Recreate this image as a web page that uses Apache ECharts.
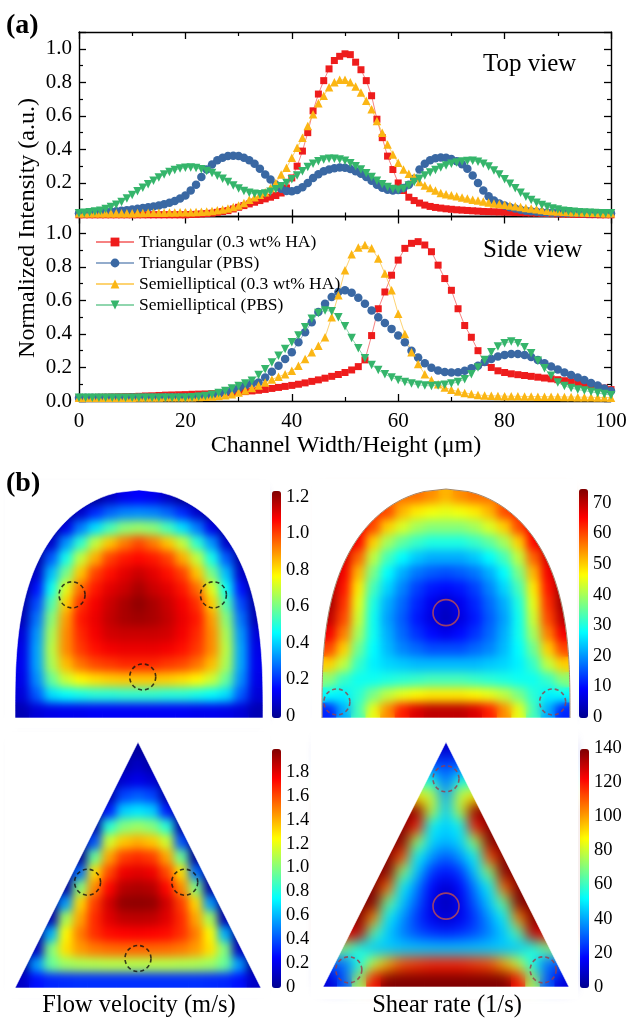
<!DOCTYPE html>
<html><head><meta charset="utf-8">
<script src="https://cdn.jsdelivr.net/npm/echarts@6/dist/echarts.min.js"></script>
<style>
html,body{margin:0;padding:0;background:#fff}
.layer{position:absolute;left:0;top:0;width:627px;height:1020px}
#c2{filter:blur(5px);pointer-events:none}
#c2b{filter:blur(7px);pointer-events:none}
#c3{pointer-events:none}
</style>
</head><body>
<div id="c1" class="layer"></div><div id="c2" class="layer"></div><div id="c2b" class="layer"></div><div id="c3" class="layer"></div>
<script>
// ---------- panel (a): intensity profiles ----------
const SERIES_NAMES = ['Triangular (0.3 wt% HA)', 'Triangular (PBS)', 'Semielliptical (0.3 wt% HA)', 'Semielliptical (PBS)'];
const X_RANGE = [0, 100];
const Y_RANGE = [0, 1.1];

const TOP_X = [0,1,2,3,4,5,6,7,8,9,10,11,12,13,14,15,16,17,18,19,20,21,22,23,24,25,26,27,28,29,30,31,32,33,34,35,36,37,38,39,40,41,42,43,44,45,46,47,48,49,50,51,52,53,54,55,56,57,58,59,60,61,62,63,64,65,66,67,68,69,70,71,72,73,74,75,76,77,78,79,80,81,82,83,84,85,86,87,88,89,90,91,92,93,94,95,96,97,98,99,100];
const TOP_RED = [.01,.01,.01,.01,.01,.01,.01,.01,.01,.01,.01,.01,.01,.01,.01,.01,.01,.01,.01,.01,.01,
 .012,.013,.015,.017,.02,.025,.03,.035,.045,.055,
 .065,.075,.085,.095,.105,.115,.125,.14,.17,.23,
 .3,.39,.5,.63,.73,.81,.88,.93,.955,.97,
 .965,.92,.875,.81,.72,.58,.47,.36,.28,.2,
 .155,.115,.095,.08,.068,.06,.054,.05,.046,.043,
 .04,.038,.036,.034,.032,.03,.029,.028,.027,.026,
 .025,.024,.023,.022,.021,.02,.019,.018,.017,.016,
 .015,.014,.013,.012,.012,.011,.011,.01,.01,.01];
const TOP_BLUE = [.02,.02,.022,.024,.026,.028,.03,.032,.035,.038,.042,
 .046,.05,.055,.06,.066,.073,.082,.093,.107,.125,
 .155,.19,.235,.28,.31,.335,.35,.36,.362,.36,
 .35,.335,.315,.285,.25,.22,.19,.165,.152,.15,
 .158,.175,.2,.23,.252,.27,.28,.288,.292,.29,
 .283,.27,.255,.235,.213,.19,.172,.16,.155,.158,
 .17,.19,.225,.28,.315,.335,.347,.352,.35,.343,
 .33,.312,.285,.245,.2,.155,.12,.095,.078,.065,
 .055,.047,.04,.035,.031,.028,.026,.024,.023,.022,
 .022,.021,.021,.021,.02,.02,.02,.02,.02,.02];
const TOP_YELLOW = [.02,.02,.02,.02,.02,.02,.02,.02,.02,.02,.02,
 .021,.021,.022,.022,.023,.023,.024,.024,.025,.025,
 .026,.027,.028,.03,.033,.037,.042,.048,.056,.066,
 .08,.1,.115,.13,.145,.17,.2,.25,.29,.35,
 .41,.47,.54,.61,.675,.72,.77,.8,.815,.815,
 .8,.775,.74,.69,.64,.57,.5,.43,.37,.32,
 .28,.255,.235,.205,.185,.17,.155,.14,.132,.126,
 .12,.114,.107,.1,.095,.09,.083,.078,.074,.07,
 .066,.061,.056,.051,.047,.043,.039,.035,.032,.03,
 .028,.027,.026,.025,.024,.023,.022,.021,.02,.02];
const TOP_GREEN = [.02,.022,.025,.03,.035,.045,.057,.07,.087,.107,.128,
 .15,.172,.193,.213,.232,.25,.265,.277,.286,.291,
 .292,.289,.282,.272,.259,.243,.225,.205,.185,.167,
 .152,.141,.135,.133,.137,.147,.162,.18,.2,.222,
 .245,.27,.295,.315,.33,.34,.345,.345,.34,.332,
 .318,.3,.28,.258,.235,.213,.193,.176,.164,.16,
 .166,.185,.205,.225,.245,.262,.277,.292,.304,.314,
 .322,.328,.331,.332,.327,.315,.298,.275,.25,.222,
 .195,.168,.142,.118,.098,.082,.068,.058,.048,.041,
 .035,.031,.028,.026,.024,.022,.021,.02,.02,.02];

const SIDE_X = [0,1.25,2.5,3.75,5,6.25,7.5,8.75,10,11.25,12.5,13.75,15,16.25,17.5,18.75,20,21.25,22.5,23.75,25,26.25,27.5,28.75,30,31.25,32.5,33.75,35,36.25,37.5,38.75,40,41.25,42.5,43.75,45,46.25,47.5,48.75,50,51.25,52.5,53.75,55,56.25,57.5,58.75,60,61.25,62.5,63.75,65,66.25,67.5,68.75,70,71.25,72.5,73.75,75,76.25,77.5,78.75,80,81.25,82.5,83.75,85,86.25,87.5,88.75,90,91.25,92.5,93.75,95,96.25,97.5,98.75,100];
const SIDE_RED = [.02,.02,.021,.022,.023,.024,.025,.026,.027,.028,
 .03,.031,.033,.035,.036,.037,.038,.04,.041,.042,
 .044,.046,.048,.05,.053,.056,.06,.064,.069,.075,
 .081,.087,.093,.1,.108,.117,.126,.136,.147,.158,
 .17,.185,.205,.245,.39,.55,.65,.75,.84,.91,
 .94,.95,.93,.89,.81,.73,.66,.55,.45,.38,
 .3,.23,.2,.18,.17,.162,.157,.152,.147,.142,
 .137,.132,.127,.121,.115,.109,.102,.094,.086,.077,
 .068];
const SIDE_BLUE = [.02,.02,.02,.02,.02,.02,.02,.02,.021,.021,
 .021,.021,.021,.022,.022,.022,.022,.023,.025,.028,
 .033,.04,.05,.062,.077,.092,.105,.11,.14,.175,
 .21,.25,.29,.35,.41,.47,.53,.58,.62,.65,
 .66,.645,.615,.58,.54,.5,.465,.43,.39,.35,
 .3,.26,.225,.198,.182,.173,.17,.172,.18,.195,
 .21,.232,.25,.265,.275,.28,.28,.274,.262,.245,
 .225,.205,.188,.17,.155,.14,.125,.108,.092,.075,
 .06];
const SIDE_YELLOW = [.02,.02,.02,.02,.02,.02,.02,.02,.02,.021,
 .021,.021,.021,.022,.022,.022,.022,.023,.024,.025,
 .027,.03,.034,.04,.05,.063,.078,.093,.11,.128,
 .145,.16,.18,.21,.25,.29,.33,.38,.5,.63,
 .78,.875,.915,.93,.91,.85,.76,.66,.52,.4,
 .29,.22,.16,.125,.1,.08,.067,.056,.048,.041,
 .036,.033,.031,.03,.029,.028,.028,.027,.027,.026,
 .026,.025,.025,.024,.024,.023,.023,.022,.021,.021,
 .02];
const SIDE_GREEN = [.02,.02,.02,.02,.02,.02,.02,.02,.02,.02,
 .02,.02,.02,.02,.02,.02,.02,.022,.025,.03,
 .037,.047,.06,.075,.09,.105,.12,.155,.19,.23,
 .27,.31,.35,.39,.44,.49,.525,.54,.535,.5,
 .445,.375,.315,.255,.215,.185,.16,.14,.125,.113,
 .104,.097,.092,.09,.093,.097,.104,.113,.13,.16,
 .2,.245,.29,.325,.345,.355,.345,.32,.285,.24,
 .195,.15,.11,.09,.077,.068,.062,.055,.048,.041,
 .035];

// ---------- panel (b): simulated fields (rows top -> bottom) ----------
const VEL_SEMI = [
 [0,0,0,0,0,0,.07,.13,.15,.13,.07,0,0,0,0,0,0],
 [0,0,0,0,.08,.2,.27,.31,.32,.31,.27,.2,.08,0,0,0,0],
 [0,0,0,.12,.3,.42,.54,.62,.64,.62,.54,.42,.3,.12,0,0,0],
 [0,0,.08,.33,.51,.69,.83,.92,.98,.92,.83,.69,.51,.33,.08,0,0],
 [0,.02,.26,.48,.69,.86,.99,1.04,1.06,1.04,.99,.86,.69,.48,.26,.02,0],
 [0,.08,.38,.6,.83,.99,1.05,1.1,1.13,1.1,1.05,.99,.83,.6,.38,.08,0],
 [0,.17,.47,.73,.94,1.04,1.1,1.13,1.17,1.13,1.1,1.04,.94,.73,.47,.17,0],
 [.03,.24,.55,.82,1.01,1.08,1.13,1.17,1.2,1.17,1.13,1.08,1.01,.82,.55,.24,.03],
 [.05,.29,.62,.88,1.04,1.09,1.14,1.17,1.18,1.17,1.14,1.09,1.04,.88,.62,.29,.05],
 [.1,.33,.66,.9,1.02,1.08,1.12,1.13,1.13,1.13,1.12,1.08,1.02,.9,.66,.33,.1],
 [.12,.35,.68,.9,1,1.05,1.08,1.09,1.09,1.09,1.08,1.05,1,.9,.68,.35,.12],
 [.13,.35,.66,.84,.93,.98,1,1.02,1.02,1.02,1,.98,.93,.84,.66,.35,.13],
 [.12,.32,.58,.7,.77,.8,.82,.83,.83,.83,.82,.8,.77,.7,.58,.32,.12],
 [.1,.26,.42,.46,.48,.5,.5,.51,.51,.51,.5,.5,.48,.46,.42,.26,.1],
 [.05,.1,.12,.13,.13,.14,.14,.14,.14,.14,.14,.14,.13,.13,.12,.1,.05]
];
const SHEAR_SEMI = [
 [57,57,57,57,57,57,57,55,52,55,57,57,57,57,57,57,57],
 [62,62,62,62,60,52,48,46,45,46,48,52,60,62,62,62,62],
 [66,66,66,60,50,44,40,38,38,38,40,44,50,60,66,66,66],
 [70,70,65,50,40,35,32,30,30,30,32,35,40,50,65,70,70],
 [70,68,58,42,33,28,24,22,22,22,24,28,33,42,58,68,70],
 [72,66,52,37,28,22,18,16,15,16,18,22,28,37,52,66,72],
 [72,64,48,33,25,19,14,11,10,11,14,19,25,33,48,64,72],
 [72,62,45,30,22,17,12,8,5,8,12,17,22,30,45,62,72],
 [70,60,43,29,21,16,11,7,4,7,11,16,21,29,43,60,70],
 [66,56,40,29,22,17,13,10,8,10,13,17,22,29,40,56,66],
 [60,50,36,28,23,19,17,15,15,15,17,19,23,28,36,50,60],
 [50,42,32,27,25,24,23,23,23,23,23,24,25,27,32,42,50],
 [38,32,29,29,30,31,32,33,33,33,32,31,30,29,29,32,38],
 [28,27,31,37,42,45,47,48,48,48,47,45,42,37,31,27,28],
 [12,22,33,45,55,63,68,70,70,70,68,63,55,45,33,22,12]
];
const VEL_TRI = [
 [0,0,0,0,0,0,0,0,.04,0,0,0,0,0,0,0,0],
 [0,0,0,0,0,0,0,.05,.12,.05,0,0,0,0,0,0,0],
 [0,0,0,0,0,0,.02,.15,.2,.15,.02,0,0,0,0,0,0],
 [0,0,0,0,0,0,.05,.38,.43,.38,.05,0,0,0,0,0,0],
 [0,0,0,0,0,0,.3,.65,.7,.65,.3,0,0,0,0,0,0],
 [0,0,0,0,0,.05,.82,1,1.05,1,.82,.05,0,0,0,0,0],
 [0,0,0,0,0,.41,1.15,1.35,1.4,1.35,1.15,.41,0,0,0,0,0],
 [0,0,0,0,.02,.95,1.42,1.62,1.66,1.62,1.42,.95,.02,0,0,0,0],
 [0,0,0,0,.47,1.3,1.6,1.77,1.8,1.77,1.6,1.3,.47,0,0,0,0],
 [0,0,0,.05,1,1.47,1.73,1.88,1.9,1.88,1.73,1.47,1,.05,0,0,0],
 [0,0,0,.55,1.32,1.62,1.83,1.95,1.96,1.95,1.83,1.62,1.32,.55,0,0,0],
 [0,0,.08,1.07,1.42,1.66,1.8,1.86,1.87,1.86,1.8,1.66,1.42,1.07,.08,0,0],
 [0,0,.6,1.25,1.5,1.65,1.72,1.74,1.75,1.74,1.72,1.65,1.5,1.25,.6,0,0],
 [0,.12,1,1.3,1.44,1.5,1.53,1.54,1.54,1.54,1.53,1.5,1.44,1.3,1,.12,0],
 [0,.55,.95,1.05,1.08,1.09,1.1,1.1,1.1,1.1,1.1,1.09,1.08,1.05,.95,.55,0],
 [.12,.28,.32,.33,.34,.34,.34,.34,.34,.34,.34,.34,.34,.33,.32,.28,.12]
];
const SHEAR_TRI = [
 [10,10,10,10,10,10,10,10,10,10,10,10,10,10,10,10,10],
 [30,30,30,30,30,30,30,30,27,30,30,30,30,30,30,30,30],
 [55,55,55,55,55,55,55,55,32,55,55,55,55,55,55,55,55],
 [90,90,90,90,90,90,90,80,40,80,90,90,90,90,90,90,90],
 [140,140,140,140,140,140,138,80,45,80,138,140,140,140,140,140,140],
 [140,140,140,140,140,140,120,53,45,53,120,140,140,140,140,140,140],
 [140,140,140,140,140,138,75,47,42,47,75,138,140,140,140,140,140],
 [140,140,140,140,140,112,53,38,30,38,53,112,140,140,140,140,140],
 [140,140,140,140,138,72,45,25,20,25,45,72,138,140,140,140,140],
 [140,140,140,140,108,52,35,18,10,18,35,52,108,140,140,140,140],
 [140,140,140,139,68,45,30,15,6,15,30,45,68,139,140,140,140],
 [140,140,140,104,51,38,25,15,10,15,25,38,51,104,140,140,140],
 [125,125,130,64,45,35,28,24,22,24,28,35,45,64,130,125,125],
 [70,70,56,45,45,45,45,45,45,45,45,45,45,45,56,70,70],
 [30,32,55,80,100,112,115,118,118,118,115,112,100,80,55,32,30],
 [12,30,75,120,140,140,140,140,140,140,140,140,140,120,75,30,12]
];
// colour-bar ranges [bar max, labelled max, tick step]
const CBAR_VEL_SEMI = [1.22, 1.2, 0.2];
const CBAR_SHEAR_SEMI = [74.6, 70, 10];
const CBAR_VEL_TRI = [1.99, 1.8, 0.2];
const CBAR_SHEAR_TRI = [140, 140, 20];
// marked regions (normalised shape coordinates: x -1..1, y 0..1)
const VEL_SEMI_RINGS = [[-0.54, 0.54], [0.6, 0.54], [0.03, 0.18]];
const SHEAR_SEMI_SOLID = [[0, 0.46]];
const SHEAR_SEMI_DASHED = [[-0.88, 0.07], [0.86, 0.07]];
const VEL_TRI_RINGS = [[-0.41, 0.43], [0.38, 0.43], [0, 0.12]];
const SHEAR_TRI_SOLID = [[0, 0.33]];
const SHEAR_TRI_DASHED = [[0, 0.85], [-0.79, 0.07], [0.79, 0.07]];
const SEMI_EXP = 2.9;

// ---------- styling ----------
const FONT = "'Liberation Serif','Times New Roman',serif";
const JET = ['#00008f','#0000ff','#0080ff','#00ffff','#80ff80','#ffff00','#ff8000','#ff0000','#800000'];
const COLORS = ['#ee1c1c', '#3a68a3', '#fbb614', '#35b56b'];
const LINE_COLORS = ['rgba(238,28,28,0.55)', 'rgba(58,104,163,0.55)', 'rgba(251,182,20,0.6)', 'rgba(53,181,107,0.55)'];
const SYMBOLS = ['rect', 'circle', 'triangle', 'triangle'];
const ROTS = [0, 0, 0, 180];
const SIZES = [7, 8.5, 8.5, 8.5];

const axLine = {show: true, onZero: false, lineStyle: {color: '#000', width: 1.4}};
const axTick = {show: true, inside: true, length: 7, lineStyle: {color: '#000', width: 1.3}};
const axMinor = {show: true, splitNumber: 2, length: 4, lineStyle: {color: '#000', width: 1.2}};
function xLineAxis(grid, pos, labels) {
  return {type: 'value', gridIndex: grid, position: pos, min: X_RANGE[0], max: X_RANGE[1], interval: 20,
    axisLine: axLine, axisTick: axTick, minorTick: axMinor, splitLine: {show: false},
    axisLabel: {show: labels, color: '#000', fontFamily: FONT, fontSize: 21, margin: 10}};
}
function yLineAxis(grid, pos, labels, showMin) {
  return {type: 'value', gridIndex: grid, position: pos, min: Y_RANGE[0], max: Y_RANGE[1], interval: 0.2,
    axisLine: axLine, axisTick: axTick, minorTick: axMinor, splitLine: {show: false},
    axisLabel: {show: labels, showMinLabel: showMin, showMaxLabel: false, color: '#000', fontFamily: FONT, fontSize: 21, margin: 7,
      formatter: v => v.toFixed(1)}};
}
function lineSeries(k, xs, ys, xi, yi) {
  return {type: 'line', name: SERIES_NAMES[k], xAxisIndex: xi, yAxisIndex: yi,
    data: xs.map((x, i) => [x, ys[i]]), symbol: SYMBOLS[k], symbolSize: SIZES[k], symbolRotate: ROTS[k],
    showAllSymbol: true, clip: false, itemStyle: {color: COLORS[k]}, lineStyle: {color: LINE_COLORS[k], width: 1},
    emphasis: {disabled: true}, animation: false};
}
function cells(rows) {
  const out = [];
  rows.forEach((r, i) => r.forEach((v, j) => out.push([j, i, v])));
  return out;
}
function catNames(n) { return Array.from({length: n}, (_, i) => String(i)); }

const HEAT_RECTS = [
  {left: 15, top: 490, width: 248, height: 228},
  {left: 322, top: 489, width: 248, height: 229},
  {left: 15, top: 742, width: 246, height: 246},
  {left: 323, top: 742, width: 246, height: 245}];
// how far each white mask reaches beyond its field rectangle [left, right, top, bottom]
const MASK_REACH = [[10, 7, 10, 10], [10, 7, 10, 10], [10, 9, 10, 10], [12, 9, 14, 12]];
const CBAR_LABEL_RECTS = [
  {left: 272, top: 497, width: 9, height: 219},
  {left: 579, top: 503, width: 9, height: 214},
  {left: 272, top: 772, width: 9, height: 215},
  {left: 580, top: 748, width: 9, height: 239}];
const CBAR_BOXES = [
  {left: 272, top: 491, itemHeight: 227},
  {left: 579, top: 489, itemHeight: 229},
  {left: 272, top: 749, itemHeight: 239},
  {left: 580, top: 749, itemHeight: 239}];
const FIELDS = [VEL_SEMI, SHEAR_SEMI, VEL_TRI, SHEAR_TRI];
const CBARS = [CBAR_VEL_SEMI, CBAR_SHEAR_SEMI, CBAR_VEL_TRI, CBAR_SHEAR_TRI];
const fixGrid = g => Object.assign({outerBoundsMode: 'none', containLabel: false}, g);

// builds grids / category axes / heatmaps / visual maps for the listed fields
function heatParts(which, gridOffset, axisOffset, seriesOffset, showBar) {
  const grid = [], xAxis = [], yAxis = [], series = [], visualMap = [];
  which.forEach((k, n) => {
    const f = FIELDS[k], c = CBARS[k];
    grid.push(fixGrid(HEAT_RECTS[k]));
    xAxis.push({type: 'category', gridIndex: gridOffset + n, data: catNames(f[0].length), show: false});
    yAxis.push({type: 'category', gridIndex: gridOffset + n, data: catNames(f.length), inverse: true, show: false});
    series.push({type: 'heatmap', xAxisIndex: axisOffset + n, yAxisIndex: axisOffset + n, data: cells(f),
      silent: true, emphasis: {disabled: true}, z: 2, animation: false});
    visualMap.push({type: 'continuous', seriesIndex: seriesOffset + n, dimension: 2, min: 0, max: c[0],
      show: showBar, calculable: false, hoverLink: false, left: CBAR_BOXES[k].left, top: CBAR_BOXES[k].top, itemWidth: 9,
      itemHeight: CBAR_BOXES[k].itemHeight, padding: 0, text: null, inRange: {color: JET}});
  });
  return {grid, xAxis, yAxis, series, visualMap};
}

// ---------- layer 1: profiles, crisp fields, colour bars ----------
const h1 = heatParts([0, 1, 2, 3], 2, 4, 8, true);
const grids1 = [fixGrid({left: 79, top: 32, width: 532, height: 184.5}), fixGrid({left: 79, top: 216.5, width: 532, height: 184.5})]
  .concat(h1.grid, CBAR_LABEL_RECTS.map(fixGrid));
const xAxes1 = [xLineAxis(0, 'bottom', false), xLineAxis(0, 'top', false), xLineAxis(1, 'bottom', true), xLineAxis(1, 'top', false)].concat(h1.xAxis);
const yAxes1 = [yLineAxis(0, 'left', true, false), yLineAxis(0, 'right', false, false), yLineAxis(1, 'left', true, true), yLineAxis(1, 'right', false, false)].concat(h1.yAxis);
CBARS.forEach((c, k) => {
  xAxes1.push({type: 'value', gridIndex: 6 + k, min: 0, max: 1, show: false});
  yAxes1.push({type: 'value', gridIndex: 6 + k, position: 'right', min: 0, max: c[1], interval: c[2],
    axisLine: {show: false}, axisTick: {show: false}, splitLine: {show: false},
    axisLabel: {show: true, showMaxLabel: true, margin: 5, color: '#000', fontFamily: FONT, fontSize: 18.5,
      formatter: v => (c[2] < 1 ? (v === 0 ? '0' : v.toFixed(1)) : String(Math.round(v)))}});
});
const series1 = [];
[TOP_RED, TOP_BLUE, TOP_YELLOW, TOP_GREEN].forEach((ys, k) => series1.push(lineSeries(k, TOP_X, ys, 0, 0)));
[SIDE_RED, SIDE_BLUE, SIDE_YELLOW, SIDE_GREEN].forEach((ys, k) => series1.push(lineSeries(k, SIDE_X, ys, 2, 2)));
h1.series.forEach(s => series1.push(s));

const option1 = {
  backgroundColor: '#fff', animation: false,
  grid: grids1, xAxis: xAxes1, yAxis: yAxes1, visualMap: h1.visualMap,
  legend: {data: SERIES_NAMES, orient: 'vertical', left: 95, top: 232, itemWidth: 38, itemHeight: 11, itemGap: 1,
    padding: 0, selectedMode: false, textStyle: {fontFamily: FONT, fontSize: 17.5, color: '#000', lineHeight: 20}},
  series: series1
};

// ---------- layers 2: the same fields, softened ----------
function softOption(which) {
  const h = heatParts(which, 0, 0, 0, false);
  return {backgroundColor: 'rgba(0,0,0,0)', animation: false, grid: h.grid, xAxis: h.xAxis, yAxis: h.yAxis,
    visualMap: h.visualMap, series: h.series};
}

// ---------- layer 3: shape outlines, marked regions, titles ----------
function maskSemi(k, outline) {
  return function (params, api) {
    const r = MASK_REACH[k];
    const tl = api.coord([-1, 1]), br = api.coord([1, 0]), apex = api.coord([0, 1]);
    const la = [], ra = [];
    for (let i = 0; i <= 90; i++) {
      const h = 1 - i / 90;
      const w = Math.sqrt(Math.max(0, 1 - Math.pow(h, SEMI_EXP)));
      la.push(api.coord([-w, h])); ra.push(api.coord([w, h]));
    }
    const L = [[tl[0] - r[0], tl[1] - r[2]], [apex[0], tl[1] - r[2]]].concat(la, [[tl[0], br[1] + r[3]], [tl[0] - r[0], br[1] + r[3]]]);
    const R = [[br[0] + r[1], tl[1] - r[2]], [apex[0], tl[1] - r[2]]].concat(ra, [[br[0], br[1] + r[3]], [br[0] + r[1], br[1] + r[3]]]);
    const B = [[tl[0] - r[0], br[1]], [br[0] + r[1], br[1]], [br[0] + r[1], br[1] + r[3]], [tl[0] - r[0], br[1] + r[3]]];
    const ch = [L, R, B].map(p => ({type: 'polygon', shape: {points: p}, style: {fill: '#fff', stroke: '#fff', lineWidth: 0.6}}));
    if (outline) ch.push({type: 'polyline', shape: {points: la.slice().reverse().concat(ra)}, style: {fill: null, stroke: '#8c6b4a', lineWidth: 0.8}});
    return {type: 'group', children: ch};
  };
}
function maskTri(k) {
  return function (params, api) {
    const r = MASK_REACH[k];
    const tl = api.coord([-1, 1]), br = api.coord([1, 0]), apex = api.coord([0, 1]);
    const L = [[tl[0] - r[0], tl[1] - r[2]], [apex[0], tl[1] - r[2]], apex, [tl[0], br[1]], [tl[0] - r[0], br[1]]];
    const R = [[br[0] + r[1], tl[1] - r[2]], [apex[0], tl[1] - r[2]], apex, [br[0], br[1]], [br[0] + r[1], br[1]]];
    const B = [[tl[0] - r[0], br[1]], [br[0] + r[1], br[1]], [br[0] + r[1], br[1] + r[3]], [tl[0] - r[0], br[1] + r[3]]];
    return {type: 'group', children: [L, R, B].map(p => ({type: 'polygon', shape: {points: p}, style: {fill: '#fff', stroke: '#fff', lineWidth: 0.6}}))};
  };
}
function rings(axis, data, color, dashed) {
  return {type: 'scatter', xAxisIndex: axis, yAxisIndex: axis, data: data, symbol: 'circle', symbolSize: 26, silent: true, z: 5,
    itemStyle: {color: 'rgba(0,0,0,0)', borderColor: color, borderWidth: 1.6, borderType: dashed ? [4, 3] : 'solid'}};
}
const xAxes3 = [], yAxes3 = [];
FIELDS.forEach((f, k) => {
  xAxes3.push({type: 'value', gridIndex: k, min: -1, max: 1, show: false});
  yAxes3.push({type: 'value', gridIndex: k, min: 0, max: 1, show: false});
});
const series3 = [
  {type: 'custom', xAxisIndex: 0, yAxisIndex: 0, data: [[0, 0]], renderItem: maskSemi(0, false), silent: true, z: 3},
  {type: 'custom', xAxisIndex: 1, yAxisIndex: 1, data: [[0, 0]], renderItem: maskSemi(1, true), silent: true, z: 3},
  {type: 'custom', xAxisIndex: 2, yAxisIndex: 2, data: [[0, 0]], renderItem: maskTri(2), silent: true, z: 3},
  {type: 'custom', xAxisIndex: 3, yAxisIndex: 3, data: [[0, 0]], renderItem: maskTri(3), silent: true, z: 3},
  rings(0, VEL_SEMI_RINGS, '#111', true),
  rings(1, SHEAR_SEMI_SOLID, '#c0504d', false),
  rings(1, SHEAR_SEMI_DASHED, '#9a3c4a', true),
  rings(2, VEL_TRI_RINGS, '#111', true),
  rings(3, SHEAR_TRI_SOLID, '#c0504d', false),
  rings(3, SHEAR_TRI_DASHED, '#9a3c4a', true)
];
const txt = (text, x, y, size, opts) => Object.assign({type: 'text', x: x, y: y, silent: true, z: 50,
  style: Object.assign({text: text, fill: '#000', font: size + 'px ' + FONT, align: 'left', verticalAlign: 'middle'}, (opts && opts.style) || {})},
  opts && opts.rotation ? {rotation: opts.rotation} : {});
const option3 = {
  backgroundColor: 'rgba(0,0,0,0)', animation: false,
  grid: HEAT_RECTS.map(fixGrid), xAxis: xAxes3, yAxis: yAxes3, series: series3,
  graphic: [
    txt('(a)', 6, 26, 28, {style: {font: 'bold 28px ' + FONT}}),
    txt('(b)', 6, 484, 28, {style: {font: 'bold 28px ' + FONT}}),
    txt('Top view', 483, 64, 25),
    txt('Side view', 483, 250, 25),
    txt('Normalized Intensity (a.u.)', 28, 228, 24, {rotation: Math.PI / 2, style: {align: 'center'}}),
    txt('Channel Width/Height (\u03bcm)', 346, 446, 24, {style: {align: 'center'}}),
    txt('Flow velocity (m/s)', 139, 1006, 24.5, {style: {align: 'center'}}),
    txt('Shear rate (1/s)', 447, 1006, 24.5, {style: {align: 'center'}})
  ]
};

echarts.init(document.getElementById('c1'), null, {renderer: 'canvas'}).setOption(option1);
echarts.init(document.getElementById('c2'), null, {renderer: 'canvas'}).setOption(softOption([0, 1, 2]));
echarts.init(document.getElementById('c2b'), null, {renderer: 'canvas'}).setOption(softOption([3]));
echarts.init(document.getElementById('c3'), null, {renderer: 'canvas'}).setOption(option3);
</script></body></html>
